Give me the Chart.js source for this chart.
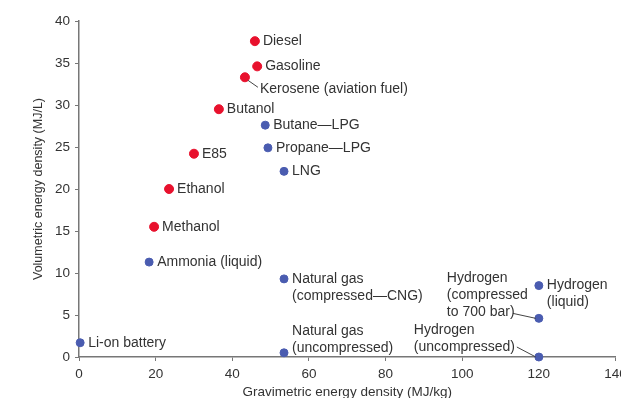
<!DOCTYPE html>
<html>
<head>
<meta charset="utf-8">
<script src="https://cdn.jsdelivr.net/npm/chart.js@4.4.1/dist/chart.umd.min.js"></script>
<style>
  html, body { margin: 0; padding: 0; background: #fff; }
  #wrap { width: 621px; height: 398px; }
</style>
</head>
<body>
<div id="wrap"><canvas id="c"></canvas></div>
<script>
// liquid fuels (red)
const fuelNames = ['Diesel', 'Gasoline', 'Kerosene (aviation fuel)', 'Butanol', 'E85', 'Ethanol', 'Methanol'];
const fuelGrav  = [45.9, 46.5, 43.3, 36.5, 30.0, 23.5, 19.6];
const fuelVol   = [37.6, 34.6, 33.3, 29.5, 24.2, 20.0, 15.5];

// gases, hydrogen, battery (blue)
const otherNames = ['Butane\u2014LPG', 'Propane\u2014LPG', 'LNG', 'Ammonia (liquid)',
  'Natural gas\n(compressed\u2014CNG)', 'Natural gas\n(uncompressed)', 'Li-on battery',
  'Hydrogen\n(liquid)', 'Hydrogen\n(compressed\nto 700 bar)', 'Hydrogen\n(uncompressed)'];
const otherGrav = [48.6, 49.3, 53.5, 18.3, 53.5, 53.5, 0.3, 120, 120, 120];
const otherVol  = [27.6, 24.9, 22.1, 11.3, 9.3, 0.5, 1.7, 8.5, 4.6, 0.0];

const xTicks = [0, 20, 40, 60, 80, 100, 120, 140];
const yTicks = [0, 5, 10, 15, 20, 25, 30, 35, 40];

const RED = '#e8112d';
const BLUE = '#4a5cb0';
const TEXT = '#333';
const FONT = '"Liberation Sans", Arial, sans-serif';

// label placement relative to the dot (px), leader lines where the label sits away
const labelLayout = {
  'Kerosene (aviation fuel)': { dx: 15, dy: 12, leader: [3, 3, 13, 10] },
  'Natural gas\n(uncompressed)': { dx: 8, dy: -22 },
  'Hydrogen\n(compressed\nto 700 bar)': { dx: -92, dy: -40, leader: [-26, -5, -3, 0] },
  'Hydrogen\n(uncompressed)': { dx: -125, dy: -27, leader: [-22, -10, -3, 0] }
};

const pointLabels = {
  id: 'pointLabels',
  afterDatasetsDraw(chart) {
    const ctx = chart.ctx;
    ctx.save();
    ctx.font = '14px ' + FONT;
    ctx.fillStyle = TEXT;
    ctx.strokeStyle = '#444';
    ctx.lineWidth = 1;
    ctx.textAlign = 'left';
    ctx.textBaseline = 'middle';
    chart.data.datasets.forEach((ds, di) => {
      const meta = chart.getDatasetMeta(di);
      meta.data.forEach((pt, i) => {
        const name = ds.names[i];
        const lay = labelLayout[name] || { dx: 8, dy: 0 };
        if (lay.leader) {
          const l = lay.leader;
          ctx.beginPath();
          ctx.moveTo(pt.x + l[0], pt.y + l[1]);
          ctx.lineTo(pt.x + l[2], pt.y + l[3]);
          ctx.stroke();
        }
        name.split('\n').forEach((line, k) => {
          ctx.fillText(line, pt.x + lay.dx, pt.y + lay.dy + k * 17);
        });
      });
    });
    ctx.restore();
  }
};

new Chart(document.getElementById('c'), {
  type: 'scatter',
  data: {
    datasets: [{
      names: fuelNames,
      data: fuelGrav.map((x, i) => ({ x, y: fuelVol[i] })),
      backgroundColor: RED,
      borderColor: RED,
      pointRadius: 4.5
    }, {
      names: otherNames,
      data: otherGrav.map((x, i) => ({ x, y: otherVol[i] })),
      backgroundColor: BLUE,
      borderColor: BLUE,
      pointRadius: 4
    }]
  },
  options: {
    responsive: true,
    maintainAspectRatio: false,
    animation: false,
    clip: false,
    layout: { padding: { top: 21, right: 5, left: 0, bottom: 0 } },
    plugins: { legend: { display: false }, tooltip: { enabled: false } },
    scales: {
      x: {
        type: 'linear', min: 0, max: 140,
        afterBuildTicks: s => { s.ticks = xTicks.map(v => ({ value: v })); },
        afterFit: s => { s.height = 41; s.paddingRight = 0; s.paddingLeft = 0; },
        border: { color: '#777', width: 1.5 },
        grid: { drawOnChartArea: false, color: '#777', tickLength: 4 },
        ticks: { color: TEXT, padding: 5, font: { size: 13.5, family: FONT } },
        title: {
          display: true, text: 'Gravimetric energy density (MJ/kg)', color: TEXT,
          font: { size: 13.5, family: FONT }, padding: { top: 0, bottom: -2 }
        }
      },
      y: {
        type: 'linear', min: 0, max: 40,
        afterBuildTicks: s => { s.ticks = yTicks.map(v => ({ value: v })); },
        afterFit: s => { s.width = 79; },
        border: { color: '#777', width: 1.5 },
        grid: { drawOnChartArea: false, color: '#777', tickLength: 4 },
        ticks: { color: TEXT, padding: 5, font: { size: 13.5, family: FONT } },
        title: {
          display: true, text: 'Volumetric energy density (MJ/L)', color: TEXT,
          font: { size: 12.5, family: FONT }, padding: { top: 31, bottom: 0 }
        }
      }
    }
  },
  plugins: [pointLabels]
});
</script>
</body>
</html>
